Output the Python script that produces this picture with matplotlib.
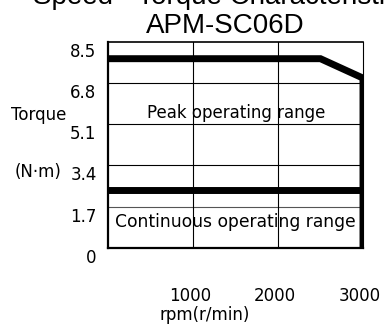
import matplotlib
matplotlib.use('Agg')
import matplotlib.pyplot as plt
import matplotlib.transforms as mtransforms

plt.rcParams['font.family'] = ['DejaVu Sans']

# data
rpm_ticks = [1000, 2000, 3000]
rpm_labels = ['1000', '2000', '3000']
torque_ticks = [0, 1.7, 3.4, 5.1, 6.8, 8.5]
torque_labels = ['0', '1.7', '3.4', '5.1', '6.8', '8.5']
peak_rpm = [0, 2500, 3000, 3000]
peak_torque = [7.8, 7.8, 7.0, 0]
cont_rpm = [0, 3000]
cont_torque = [2.4, 2.4]

fig = plt.figure(figsize=(3.85, 3.25), dpi=100)
ax = fig.add_axes([107.7/385, 1 - 248/325, 255.3/385, 206.3/325])
ax.set_xlim(0, 3000)
ax.set_ylim(0, 8.5)

# grid lines
for v in torque_ticks[1:-1]:
    ax.axhline(v, color='#555555' if v == 1.7 else 'black', lw=0.8, zorder=1)
for v in rpm_ticks[:-1]:
    ax.axvline(v, color='black', lw=0.8, zorder=1)

ax.plot(peak_rpm, peak_torque, color='black', lw=5, solid_joinstyle='miter', zorder=3)
ax.plot(cont_rpm, cont_torque, color='black', lw=5, zorder=3)

ax.text(1513, 5.55, 'Peak operating range', ha='center', va='center', fontsize=12)
ax.text(1500, 1.07, 'Continuous operating range', ha='center', va='center', fontsize=12.3)

for s in ['left', 'bottom']:
    ax.spines[s].set_linewidth(1.6)
ax.spines['top'].set_linewidth(1.2)
ax.spines['right'].set_linewidth(0.8)

ax.set_xticks(rpm_ticks)
ax.set_xticklabels(rpm_labels, fontsize=12)
ax.set_yticks(torque_ticks)
ax.set_yticklabels(torque_labels, fontsize=12)
ax.tick_params(length=0)
ax.tick_params(axis='x', pad=28)
ax.tick_params(axis='y', pad=8)
off = mtransforms.ScaledTranslation(0, -0.08, fig.dpi_scale_trans)
for lab in ax.get_yticklabels():
    lab.set_transform(lab.get_transform() + off)
offx = mtransforms.ScaledTranslation(-0.03, 0, fig.dpi_scale_trans)
for lab in ax.get_xticklabels():
    lab.set_transform(lab.get_transform() + offx)

fig.text(39/385, 1 - 115/325, 'Torque', ha='center', va='center', fontsize=12)
fig.text(38/385, 1 - 172/325, '(N·m)', ha='center', va='center', fontsize=12)
fig.text(205/385, 1 - 315/325, 'rpm(r/min)', ha='center', va='center', fontsize=12)

fig.text(225/385, 1 - 33/325, 'APM-SC06D', ha='center', va='baseline', fontsize=20,
         family='Liberation Sans')
fig.text(33/385, 1 - 4/325, 'Speed - Torque Characteristics', ha='left', va='baseline',
         fontsize=20, family='Liberation Sans')

fig.savefig('out.png', dpi=100)
